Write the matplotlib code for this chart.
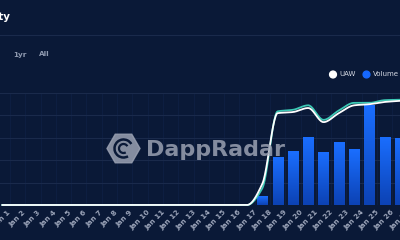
import numpy as np
import matplotlib
matplotlib.use("Agg")
import matplotlib.pyplot as plt
from matplotlib.patches import RegularPolygon, Arc, Circle

# data
days = ["Jan 1", "Jan 2", "Jan 3", "Jan 4", "Jan 5", "Jan 6", "Jan 7", "Jan 8",
        "Jan 9", "Jan 10", "Jan 11", "Jan 12", "Jan 13", "Jan 14", "Jan 15",
        "Jan 16", "Jan 17", "Jan 18", "Jan 19", "Jan 20", "Jan 21", "Jan 22",
        "Jan 23", "Jan 24", "Jan 25", "Jan 26", "Jan 27"]
uaw = [0] * 17 + [950, 4100, 4150, 4330, 3700, 4100, 4450, 4500, 4600, 4650]
uaw_glow = [0] * 17 + [750, 4180, 4250, 4450, 3800, 4220, 4560, 4560, 4680, 4700]
volume = [0] * 17 + [0.4, 2.14, 2.41, 3.04, 2.37, 2.81, 2.5, 4.46, 3.04, 3.0]

BG = "#0a1937"
GRID = "#1a2a4b"


# monotone cubic so the line bends like the original smooth series
def smooth(y, n=24):
    y = np.asarray(y, float)
    d = np.diff(y)
    m = np.zeros_like(y)
    m[0], m[-1] = d[0], d[-1]
    for k in range(1, len(y) - 1):
        if d[k - 1] * d[k] > 0:
            m[k] = 2 / (1 / d[k - 1] + 1 / d[k])
    xs, ys = [], []
    t = np.linspace(0, 1, n, endpoint=False)
    for k in range(len(y) - 1):
        h00 = 2 * t**3 - 3 * t**2 + 1
        h10 = t**3 - 2 * t**2 + t
        h01 = -2 * t**3 + 3 * t**2
        h11 = t**3 - t**2
        xs.append(k + t)
        ys.append(h00 * y[k] + h10 * m[k] + h01 * y[k + 1] + h11 * m[k + 1])
    xs.append([len(y) - 1])
    ys.append([y[-1]])
    return np.concatenate(xs), np.concatenate(ys)


fig = plt.figure(figsize=(4, 2.4), dpi=100, facecolor=BG)

step = 15.7  # px per day
x0 = -2.4 / step
ax = fig.add_axes([0, 35 / 240, 1, 112 / 240])
ax.set_facecolor(BG)
x = np.arange(len(days))

# volume bars with a vertical gradient
bars = ax.bar(x, volume, width=0.66, color="#1560e8", zorder=2)
grad = np.linspace(1, 0, 64).reshape(-1, 1)
cmap = matplotlib.colors.LinearSegmentedColormap.from_list("b", ["#0c42b4", "#1a6eff"])
for b in bars:
    if b.get_height() <= 0:
        continue
    bx, by = b.get_x(), b.get_y()
    im = ax.imshow(grad, extent=[bx, bx + b.get_width(), by, by + b.get_height()],
                   cmap=cmap, aspect="auto", zorder=2.1, origin="upper")
    im.set_clip_path(b)
ax.set_xlim(x0, x0 + 400 / step)
ax.set_ylim(0, 5)
ax.set_yticks(np.arange(0, 6))
ax.grid(axis="y", color=GRID, lw=0.8)
for v in np.arange(0.5, len(days), 1):
    ax.axvline(v, color="#0e1f42", lw=0.7, zorder=0)
ax.set_xticks(x)
ax.set_xticklabels(days, rotation=45, ha="center", va="top",
                   fontsize=5.2, color="#9aa3b8", fontweight="bold")
ax.tick_params(axis="x", length=0, pad=3)
ax.tick_params(axis="y", length=0, labelleft=False)
for s in ax.spines.values():
    s.set_visible(False)

ax2 = ax.twinx()
ax2.set_ylim(0, 5000)
ax2.set_xlim(ax.get_xlim())
ax2.axis("off")
gx, gy = smooth(uaw_glow)
ax2.plot(gx, gy, color="#3cc8b4", lw=1.3, zorder=3, clip_on=False)
ux, uy = smooth(uaw)
ax2.plot(ux, uy, color="white", lw=1.3, zorder=4, clip_on=False)

# header, legend and watermark in pixel coordinates
ov = fig.add_axes([0, 0, 1, 1])
ov.set_xlim(0, 400)
ov.set_ylim(240, 0)
ov.axis("off")
ov.plot([0, 400], [35, 35], color=GRID, lw=0.8)
ov.text(10.5, 17.5, "Activity", ha="right", va="center", color="white",
        fontsize=7.5, fontweight="bold")
ov.text(13, 54.5, "1yr", ha="left", va="center", color="#8f9ab0", fontsize=5.2, fontweight="bold")
ov.text(39, 54.5, "All", ha="left", va="center", color="#8f9ab0", fontsize=5.2, fontweight="bold")

ov.add_patch(Circle((333, 74.5), 3.4, color="white"))
ov.text(339.5, 74.5, "UAW", ha="left", va="center", color="#d4d8e2", fontsize=5)
ov.add_patch(Circle((366.5, 74.5), 3.4, color="#1668ff"))
ov.text(373, 74.5, "Volume", ha="left", va="center", color="#d4d8e2", fontsize=5)

wm = "#9aa1b2"
ov.add_patch(RegularPolygon((123.5, 148.5), 6, radius=16.5, orientation=np.pi / 6,
                            color=wm, alpha=0.85))
ov.add_patch(Arc((123.5, 148.5), 18, 18, theta1=60, theta2=330, color=BG, lw=1.8))
ov.add_patch(Arc((123.5, 148.5), 9, 9, theta1=60, theta2=330, color=BG, lw=1.6))
ov.text(146, 150, "DappRadar", ha="left", va="center", color=wm, alpha=0.85,
        fontsize=16, fontweight="bold")

fig.savefig("out.png", dpi=100, facecolor=BG)
